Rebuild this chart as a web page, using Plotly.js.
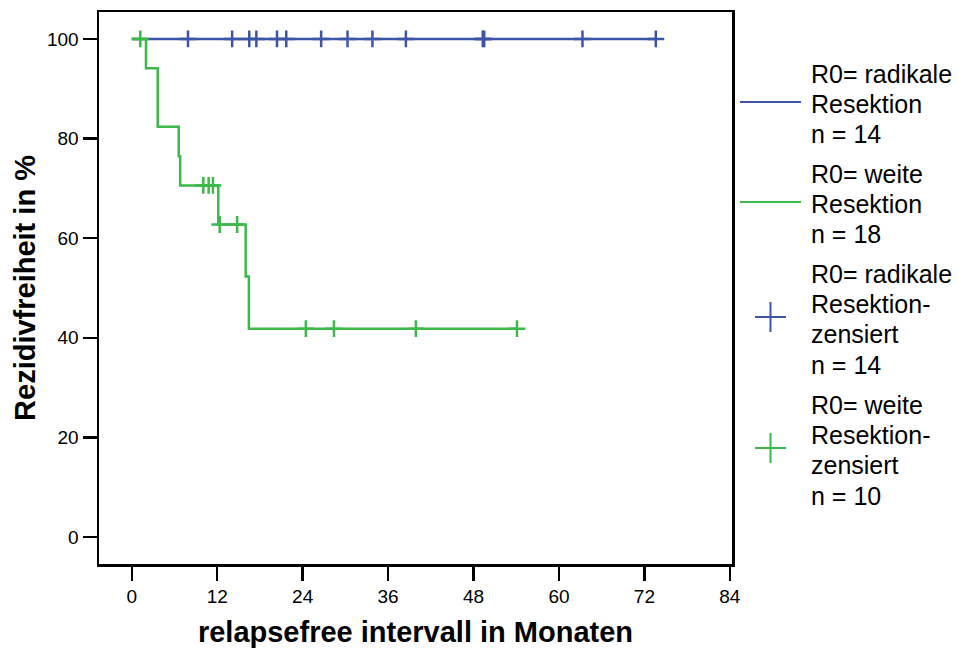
<!DOCTYPE html>
<html>
<head>
<meta charset="utf-8">
<script src="https://cdn.plot.ly/plotly-3.0.1.min.js"></script>
<style>
  html, body { margin: 0; padding: 0; background: #fff; }
  #chart { width: 963px; height: 648px; }
</style>
</head>
<body>
<div id="chart"></div>
<script>
// Kaplan-Meier step curves (months, % relapse-free)
const radikalTimes = [0, 73.6];
const radikalSurv  = [100, 100];
const weiteTimes   = [0, 2.0, 3.65, 6.6, 6.8, 12.15, 16.0, 16.45, 54.1];
const weiteSurv    = [100, 94.12, 82.35, 76.47, 70.59, 62.75, 52.29, 41.83, 41.83];

// censored observations (months)
const radikalCensored = [7.9, 14.1, 16.5, 17.5, 20.4, 21.7, 26.6, 30.3, 33.8, 38.5, 49.3, 49.5, 63.3, 73.6];
const weiteCensored   = [1.2, 10.05, 10.8, 11.4, 12.35, 14.8, 24.45, 28.4, 39.9, 54.1];

const xTicks = [0, 12, 24, 36, 48, 60, 72, 84];
const yTicks = [0, 20, 40, 60, 80, 100];

const legendLabels = [
  ["R0= radikale", "Resektion", "n = 14"],
  ["R0= weite", "Resektion", "n = 18"],
  ["R0= radikale", "Resektion-", "zensiert", "n = 14"],
  ["R0= weite", "Resektion-", "zensiert", "n = 10"]
];

const BLUE = "#3d55a6";
const GREEN = "#3cb94a";
const FONT = "Liberation Sans, Arial, Helvetica, sans-serif";

// survival level of a step curve at time t
function levelAt(times, surv, t) {
  let v = surv[0];
  for (let i = 0; i < times.length; i++) if (times[i] <= t) v = surv[i];
  return v;
}

const traces = [
  { x: radikalTimes, y: radikalSurv, mode: "lines", line: { shape: "hv", color: BLUE, width: 2.5 }, hoverinfo: "skip" },
  { x: weiteTimes, y: weiteSurv, mode: "lines", line: { shape: "hv", color: GREEN, width: 2.5 }, hoverinfo: "skip" },
  { x: radikalCensored, y: radikalCensored.map(t => levelAt(radikalTimes, radikalSurv, t)), mode: "markers",
    marker: { symbol: "cross-thin", size: 12, line: { color: BLUE, width: 2.5 } }, hoverinfo: "skip" },
  { x: weiteCensored, y: weiteCensored.map(t => levelAt(weiteTimes, weiteSurv, t)), mode: "markers",
    marker: { symbol: "cross-thin", size: 12, line: { color: GREEN, width: 2.5 } }, hoverinfo: "skip" }
];

// page-pixel layout helpers
const M = { l: 99, r: 231, t: 12, b: 84 };
const W = 963, H = 648;
const PW = W - M.l - M.r, PH = H - M.t - M.b;
const px = x => (x - M.l) / PW;
const py = y => 1 - (y - M.t) / PH;

// legend text rows (vertical centres in pixels)
const rowY = [[74, 104, 134], [174, 204, 234], [274, 304, 334, 365], [405, 435, 465, 496]];
const annotations = [];
legendLabels.forEach((group, g) => {
  group.forEach((txt, i) => {
    annotations.push({
      text: txt, xref: "paper", yref: "paper", x: px(809), y: py(rowY[g][i]),
      xanchor: "left", yanchor: "middle", showarrow: false,
      font: { family: FONT, size: 25, color: "#000" }
    });
  });
});

// legend symbols
const shapes = [
  { type: "line", xref: "paper", yref: "paper", x0: px(740), x1: px(801), y0: py(102), y1: py(102), line: { color: BLUE, width: 2 } },
  { type: "line", xref: "paper", yref: "paper", x0: px(740), x1: px(801), y0: py(202), y1: py(202), line: { color: GREEN, width: 2 } },
  { type: "line", xref: "paper", yref: "paper", x0: px(755), x1: px(786), y0: py(317), y1: py(317), line: { color: BLUE, width: 2 } },
  { type: "line", xref: "paper", yref: "paper", x0: px(770.5), x1: px(770.5), y0: py(302), y1: py(332), line: { color: BLUE, width: 2 } },
  { type: "line", xref: "paper", yref: "paper", x0: px(755), x1: px(786), y0: py(448), y1: py(448), line: { color: GREEN, width: 2 } },
  { type: "line", xref: "paper", yref: "paper", x0: px(770.5), x1: px(770.5), y0: py(433), y1: py(463), line: { color: GREEN, width: 2 } }
];

const layout = {
  width: W, height: H,
  margin: M,
  paper_bgcolor: "#fff", plot_bgcolor: "#fff",
  showlegend: false,
  font: { family: FONT, color: "#000" },
  xaxis: {
    range: [-4.6, 84.3], tickvals: xTicks, ticktext: xTicks.map(String),
    showgrid: false, zeroline: false,
    showline: true, mirror: true, linecolor: "#000", linewidth: 2.5,
    ticks: "outside", ticklen: 14, tickwidth: 2.5, tickcolor: "#000",
    tickfont: { family: FONT, size: 19, color: "#000" },
    title: { text: "<b>relapsefree intervall in Monaten</b>", font: { family: FONT, size: 29, color: "#000" }, standoff: 16 }
  },
  yaxis: {
    range: [-5.4, 105.4], tickvals: yTicks, ticktext: yTicks.map(String),
    showgrid: false, zeroline: false,
    showline: true, mirror: true, linecolor: "#000", linewidth: 2.5,
    ticks: "outside", ticklen: 14, tickwidth: 2.5, tickcolor: "#000",
    tickfont: { family: FONT, size: 19, color: "#000" },
    title: { text: "<b>Rezidivfreiheit in %</b>", font: { family: FONT, size: 29, color: "#000" }, standoff: 3 }
  },
  annotations: annotations,
  shapes: shapes
};

Plotly.newPlot("chart", traces, layout, { staticPlot: true, displayModeBar: false });
</script>
</body>
</html>
